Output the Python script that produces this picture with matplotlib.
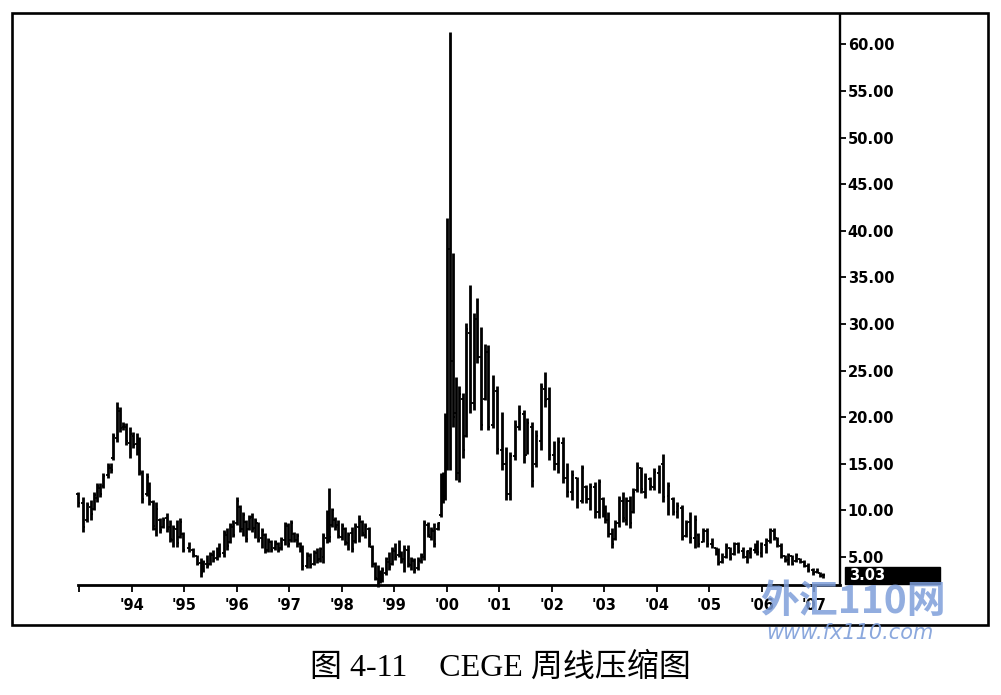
import matplotlib
matplotlib.use("Agg")
import matplotlib.pyplot as plt
import matplotlib.transforms as mtransforms
from matplotlib.patches import Rectangle

# ---------------- data (decimal year, OHLC) ----------------
dates = [
    1992.98, 1993.07, 1993.14, 1993.22, 1993.28, 1993.34, 1993.40, 1993.46, 1993.54, 1993.60,
    1993.64, 1993.72, 1993.78, 1993.84, 1993.89, 1993.96, 1994.03, 1994.10, 1994.13, 1994.19,
    1994.29, 1994.33, 1994.40, 1994.46, 1994.54, 1994.59, 1994.67, 1994.73, 1994.79, 1994.86,
    1994.92, 1994.98, 1995.08, 1995.17, 1995.24, 1995.31,
    1995.36, 1995.43, 1995.49, 1995.55, 1995.62, 1995.66, 1995.75, 1995.81, 1995.87, 1995.92,
    1996.00, 1996.06, 1996.11, 1996.17, 1996.23, 1996.29, 1996.35, 1996.41, 1996.48, 1996.53,
    1996.59, 1996.65, 1996.72, 1996.78, 1996.84, 1996.91, 1996.97, 1997.03, 1997.08, 1997.14,
    1997.21, 1997.25, 1997.33, 1997.40, 1997.46, 1997.52, 1997.59, 1997.65, 1997.71, 1997.76,
    1997.81, 1997.87, 1997.93, 1998.00, 1998.06, 1998.12, 1998.19, 1998.25, 1998.32, 1998.38,
    1998.44, 1998.51, 1998.57, 1998.63, 1998.68,
    1998.73, 1998.77, 1998.84, 1998.90, 1998.95, 1999.01, 1999.08, 1999.13, 1999.19, 1999.26,
    1999.32, 1999.38, 1999.45, 1999.51, 1999.57, 1999.64, 1999.70, 1999.76, 1999.83, 1999.89,
    1999.93,
    1999.97, 2000.01, 2000.06, 2000.11, 2000.18, 2000.24, 2000.30, 2000.37, 2000.44, 2000.52,
    2000.58, 2000.65, 2000.73, 2000.79, 2000.87, 2000.96, 2001.05, 2001.13, 2001.20, 2001.30,
    2001.38, 2001.46, 2001.53, 2001.62, 2001.70, 2001.79, 2001.87, 2001.95, 2002.04, 2002.12,
    2002.21, 2002.29, 2002.38, 2002.47, 2002.57, 2002.65, 2002.73, 2002.82,
    2002.90, 2002.97, 2003.01, 2003.07, 2003.14, 2003.20, 2003.28, 2003.36, 2003.42, 2003.49,
    2003.55, 2003.62, 2003.69, 2003.77, 2003.87, 2003.94, 2004.03, 2004.11, 2004.22, 2004.30,
    2004.39, 2004.47, 2004.55, 2004.63, 2004.72, 2004.79, 2004.88, 2004.96, 2005.04, 2005.12,
    2005.17, 2005.23, 2005.31, 2005.39, 2005.47, 2005.55, 2005.63, 2005.71, 2005.78, 2005.87,
    2005.91, 2005.99, 2006.08, 2006.15, 2006.22, 2006.29, 2006.36, 2006.44, 2006.50, 2006.57,
    2006.65, 2006.72, 2006.80, 2006.88, 2006.97, 2007.04, 2007.10, 2007.17,
]

highs = [
    12.0, 11.4, 10.9, 11.1, 12.0, 12.9, 12.9, 14.0, 15.1, 15.1, 18.3, 21.6, 21.1, 19.5, 19.4, 18.9,
    18.4, 18.3, 17.9, 14.3, 14.0, 13.0, 11.1, 10.9, 9.2, 9.3, 9.7, 9.0, 8.4, 9.0, 9.2, 7.7, 6.6, 6.0,
    5.2, 4.9,
    4.7, 5.2, 5.5, 5.8, 6.1, 6.5, 7.9, 8.1, 8.6, 9.0, 11.4, 10.6, 9.8, 9.0, 9.5, 9.7, 9.2, 8.8, 8.1, 7.6,
    7.0, 6.8, 6.8, 6.6, 7.1, 8.8, 8.6, 9.0, 7.7, 7.6, 6.6, 6.3, 5.5, 5.4, 5.8, 6.0, 6.1, 7.6, 10.0, 12.4,
    10.3, 9.3, 9.0, 8.6, 8.2, 7.7, 8.2, 8.6, 9.5, 9.0, 8.6, 8.2, 6.3, 4.5, 4.1,
    3.6, 3.9, 5.0, 5.5, 6.1, 6.5, 6.8, 5.7, 6.3, 6.3, 5.0, 4.9, 5.0, 5.4, 9.0, 8.8, 8.2, 8.6, 8.8, 14.0,
    14.1,
    20.4, 41.4, 61.3, 37.6, 24.3, 23.3, 22.6, 30.1, 34.2, 31.2, 32.8, 29.7, 27.9, 27.7, 24.5, 23.3,
    20.6, 16.8, 16.3, 19.7, 21.3, 20.8, 19.9, 19.5, 18.6, 23.7, 24.8, 23.2, 17.5, 17.9,
    17.9, 15.1, 14.3, 13.6, 14.9, 12.7, 12.9, 13.0,
    13.4, 11.4, 10.6, 9.8, 8.1, 9.0, 11.6, 12.0, 11.4, 11.6, 12.4, 15.2, 14.7, 14.0, 13.6, 14.5,
    14.9, 16.1, 13.0, 11.4, 10.9, 10.6, 9.0, 9.8, 9.5, 7.6, 8.1, 8.1, 7.0, 6.1, 6.0, 5.4, 6.5, 6.1,
    6.6, 6.6, 6.1, 5.8, 6.1, 6.5, 6.8, 6.6, 7.0, 8.1, 8.1, 7.1, 6.5, 5.2, 5.4, 5.2, 5.4, 4.9, 4.7,
    4.4, 3.8, 3.8, 3.4, 3.3,
]

lows = [
    10.4, 7.7, 8.8, 9.0, 10.0, 10.9, 11.4, 12.4, 13.5, 14.0, 15.4, 17.3, 18.4, 18.6, 17.0, 15.6,
    16.7, 15.9, 13.8, 10.8, 11.6, 10.6, 7.9, 7.3, 7.6, 8.1, 7.7, 6.6, 6.1, 6.1, 7.0, 5.5, 5.5, 5.0,
    4.1, 2.9,
    3.4, 3.8, 4.1, 4.5, 4.7, 5.0, 5.0, 5.8, 6.5, 7.1, 8.4, 7.7, 7.3, 6.6, 7.9, 7.7, 7.0, 6.6, 6.0, 5.4,
    5.5, 5.5, 5.8, 5.5, 5.8, 6.3, 6.1, 6.6, 6.6, 6.1, 5.5, 3.6, 3.8, 3.8, 4.1, 4.4, 4.5, 4.4, 6.5, 6.6,
    8.2, 7.9, 7.0, 6.8, 6.3, 5.8, 5.5, 6.5, 6.6, 7.3, 7.0, 6.1, 3.9, 2.5, 1.8,
    2.2, 2.3, 3.1, 3.6, 4.1, 4.7, 5.0, 4.4, 3.4, 3.9, 3.6, 3.3, 3.6, 4.4, 4.7, 7.1, 6.8, 6.1, 7.9, 9.3,
    10.8,
    11.1, 14.3, 14.3, 19.0, 13.3, 13.0, 15.6, 17.9, 20.4, 20.8, 25.8, 18.6, 21.8, 18.6, 18.8, 16.1,
    14.3, 11.1, 11.1, 15.4, 18.6, 15.1, 16.1, 12.5, 14.7, 16.5, 21.1, 15.4, 14.3, 14.0,
    12.9, 11.4, 11.1, 10.3, 10.8, 10.8, 10.0, 9.2,
    9.2, 9.3, 8.6, 7.1, 6.0, 6.8, 8.2, 8.8, 8.4, 8.1, 9.7, 12.0, 11.9, 11.3, 12.2, 12.2,
    11.9, 10.9, 9.5, 9.5, 9.2, 6.8, 7.1, 6.5, 6.0, 6.1, 6.6, 6.1, 6.0, 5.2, 4.1, 4.4, 4.9, 4.7,
    5.2, 5.4, 4.9, 4.4, 4.9, 5.4, 5.2, 5.0, 5.4, 6.5, 6.8, 6.1, 4.9, 4.5, 4.1, 4.1, 4.5, 4.4, 3.9,
    3.4, 3.1, 3.3, 2.9, 2.8,
]

opens = [
    11.8, 10.8, 9.0, 10.4, 10.2, 11.3, 12.4, 12.6, 13.8, 14.6, 15.6, 17.8, 20.7, 18.9, 19.0, 17.2,
    18.0, 17.1, 16.5, 14.0, 11.8, 12.8, 10.9, 8.0, 9.0, 8.2, 9.2, 8.2, 6.8, 8.0, 7.2, 7.5, 6.0, 5.8,
    5.1, 4.4,
    3.5, 4.3, 4.2, 5.2, 4.9, 5.8, 5.4, 7.4, 6.6, 8.2, 8.6, 10.4, 8.0, 8.8, 8.0, 9.3, 8.1, 8.6, 7.0, 7.4,
    5.8, 6.6, 6.0, 6.4, 6.0, 6.8, 8.3, 6.8, 7.5, 6.8, 6.4, 5.8, 4.0, 5.1, 4.3, 5.4, 4.8, 5.0, 7.0, 9.8,
    8.4, 9.0, 8.4, 7.2, 8.0, 6.5, 7.6, 6.7, 8.2, 8.8, 7.4, 8.0, 6.1, 4.3, 2.6,
    3.3, 2.5, 3.3, 4.5, 4.2, 5.6, 5.2, 5.5, 4.8, 5.8, 4.1, 4.6, 3.8, 4.6, 5.0, 8.4, 7.2, 7.8, 8.0, 9.5,
    13.4,
    11.5, 20.0, 38.0, 26.0, 20.5, 14.0, 22.0, 18.0, 29.0, 21.5, 30.5, 26.5, 22.0, 27.0, 19.2, 22.8,
    16.5, 15.0, 11.8, 15.8, 19.0, 20.3, 16.0, 19.0, 15.0, 17.5, 23.0, 22.0, 16.0, 15.0,
    17.2, 13.5, 12.0, 13.5, 11.0, 12.5, 11.2, 12.5,
    9.8, 11.2, 9.6, 9.0, 7.5, 6.9, 8.6, 11.0, 9.0, 11.0, 9.8, 12.2, 14.5, 12.0, 13.4, 12.5,
    14.0, 15.0, 11.5, 11.2, 9.8, 10.3, 7.3, 8.8, 7.0, 7.4, 6.6, 7.8, 6.4, 6.0, 5.6, 4.5, 5.0, 6.0,
    5.3, 6.4, 5.6, 5.0, 5.4, 5.8, 6.2, 5.4, 6.3, 6.7, 7.8, 7.0, 6.2, 5.1, 4.7, 5.1, 4.6, 4.8, 4.5,
    4.0, 3.6, 3.4, 3.3, 3.1,
]

closes = [
    10.8, 8.2, 10.6, 9.6, 11.7, 12.6, 11.8, 13.7, 14.8, 14.3, 18.0, 21.0, 18.8, 19.2, 17.4, 18.2,
    17.0, 16.2, 14.2, 11.2, 13.6, 11.0, 8.3, 10.2, 7.9, 9.0, 8.0, 6.9, 8.1, 6.5, 8.8, 5.8, 6.4, 5.2,
    4.3, 3.3,
    4.5, 4.0, 5.3, 4.8, 5.9, 5.3, 7.6, 6.2, 8.4, 7.4, 11.0, 8.0, 9.5, 6.9, 9.2, 8.0, 8.9, 6.8, 7.8, 5.7,
    6.8, 5.8, 6.6, 5.8, 6.9, 8.5, 6.4, 8.7, 6.9, 7.3, 5.7, 4.0, 5.2, 4.1, 5.5, 4.7, 5.9, 7.3, 9.6, 7.2,
    10.0, 8.2, 7.3, 8.3, 6.6, 7.4, 5.9, 8.3, 9.1, 7.6, 8.3, 6.4, 4.2, 2.8, 3.8,
    2.6, 3.6, 4.8, 3.9, 5.8, 5.0, 6.5, 4.6, 5.9, 4.2, 4.8, 3.6, 4.7, 5.2, 8.6, 7.4, 7.9, 6.4, 8.6, 13.6,
    11.2,
    20.0, 38.0, 26.0, 20.0, 14.0, 22.5, 16.5, 29.5, 21.5, 30.5, 26.5, 19.2, 27.0, 19.0, 23.5, 16.6,
    15.0, 11.8, 15.8, 19.2, 20.5, 15.8, 19.4, 13.2, 18.0, 23.2, 21.8, 16.0, 15.0, 17.3,
    13.5, 12.0, 13.8, 10.8, 14.5, 11.2, 12.5, 9.8,
    13.0, 9.6, 9.0, 7.5, 6.4, 8.7, 11.2, 9.2, 11.0, 8.6, 12.0, 14.8, 12.3, 13.6, 12.6, 14.1,
    12.4, 11.4, 12.6, 9.8, 10.5, 7.2, 8.6, 7.0, 9.0, 6.4, 7.8, 6.4, 6.8, 5.4, 4.4, 5.2, 6.2, 4.9,
    6.4, 5.6, 5.0, 5.6, 5.9, 6.3, 5.5, 6.4, 6.8, 7.9, 7.0, 6.3, 5.1, 4.7, 5.2, 4.3, 5.2, 4.5, 4.0,
    3.6, 3.3, 3.6, 3.0, 3.03,
]

last_price = 3.03
year_ticks = list(range(1993, 2008))
year_labels = [""] + ["'%02d" % (y % 100) for y in range(1994, 2008)]
price_ticks = [5, 10, 15, 20, 25, 30, 35, 40, 45, 50, 55, 60]
caption = "图 4-11\u3000CEGE 周线压缩图"
watermark_cn = "外汇110网"
watermark_url = "www.fx110.com"

# ---------------- figure ----------------
W, H = 1001, 695
fig = plt.figure(figsize=(W / 100, H / 100), dpi=100)
fig.patch.set_facecolor("white")

def fx(px):
    return px / W

def fy(py):
    return 1 - py / H

ax = fig.add_axes([fx(78), fy(585), fx(840) - fx(78), fy(15) - fy(585)])
ax.set_facecolor("white")
ax.set_xlim(1992.975, 2007.486)
ax.set_ylim(2.0, 63.15)

# OHLC bars
tick_w = 0.036
ax.vlines(dates, lows, highs, colors="black", linewidth=2.0, clip_on=False, zorder=3)
ax.hlines(opens, [d - tick_w for d in dates], dates, colors="black", linewidth=1.3,
          clip_on=False, zorder=3)
ax.hlines(closes, dates, [d + tick_w for d in dates], colors="black", linewidth=1.3,
          clip_on=False, zorder=3)

# spines
for s in ("top", "left"):
    ax.spines[s].set_visible(False)
ax.spines["bottom"].set_linewidth(2.0)
ax.spines["right"].set_linewidth(1.7)

tick_font = dict(family="DejaVu Sans", weight="bold", size=10.5)

ax.yaxis.tick_right()
ax.set_yticks(price_ticks)
ax.set_yticklabels(["%.2f" % v for v in price_ticks], **tick_font)
ax.tick_params(axis="y", direction="out", length=4, width=1.3, pad=1.5, colors="black")

ax.set_xticks(year_ticks)
ax.set_xticklabels(year_labels, **tick_font)
ax.tick_params(axis="x", direction="out", length=5, width=1.3, pad=4, colors="black")

# last price box
blend = mtransforms.blended_transform_factory(ax.transAxes, ax.transData)
box_left = 1 + 5 / 762
box_w = 95 / 762
ax.add_patch(Rectangle((box_left, 2.1), box_w, 1.85, transform=blend,
                       facecolor="black", edgecolor="black", clip_on=False, zorder=5))
ax.text(box_left + 4 / 762, last_price, "%.2f" % last_price, transform=blend,
        color="white", ha="left", va="center", zorder=6, **tick_font)

# outer frame
fig.add_artist(Rectangle((fx(12), fy(625)), fx(988) - fx(12), fy(13) - fy(625),
                         transform=fig.transFigure, fill=False, edgecolor="black",
                         linewidth=1.9, zorder=1))

# caption
fig.text(0.5, fy(668), caption, ha="center", va="center", fontsize=23,
         family=["Liberation Serif", "Noto Sans CJK SC"], color="black")

# watermark
fig.text(fx(853), fy(601), watermark_cn, ha="center", va="center", fontsize=28,
         family=["Noto Sans CJK SC"], weight="bold", color="#7f9fda", alpha=0.85,
         zorder=10)
fig.text(fx(850), fy(633), watermark_url, ha="center", va="center", fontsize=15,
         family="DejaVu Sans", style="italic", color="#7f9fda", alpha=0.9, zorder=10)

fig.savefig("out.png", dpi=100, facecolor="white")
